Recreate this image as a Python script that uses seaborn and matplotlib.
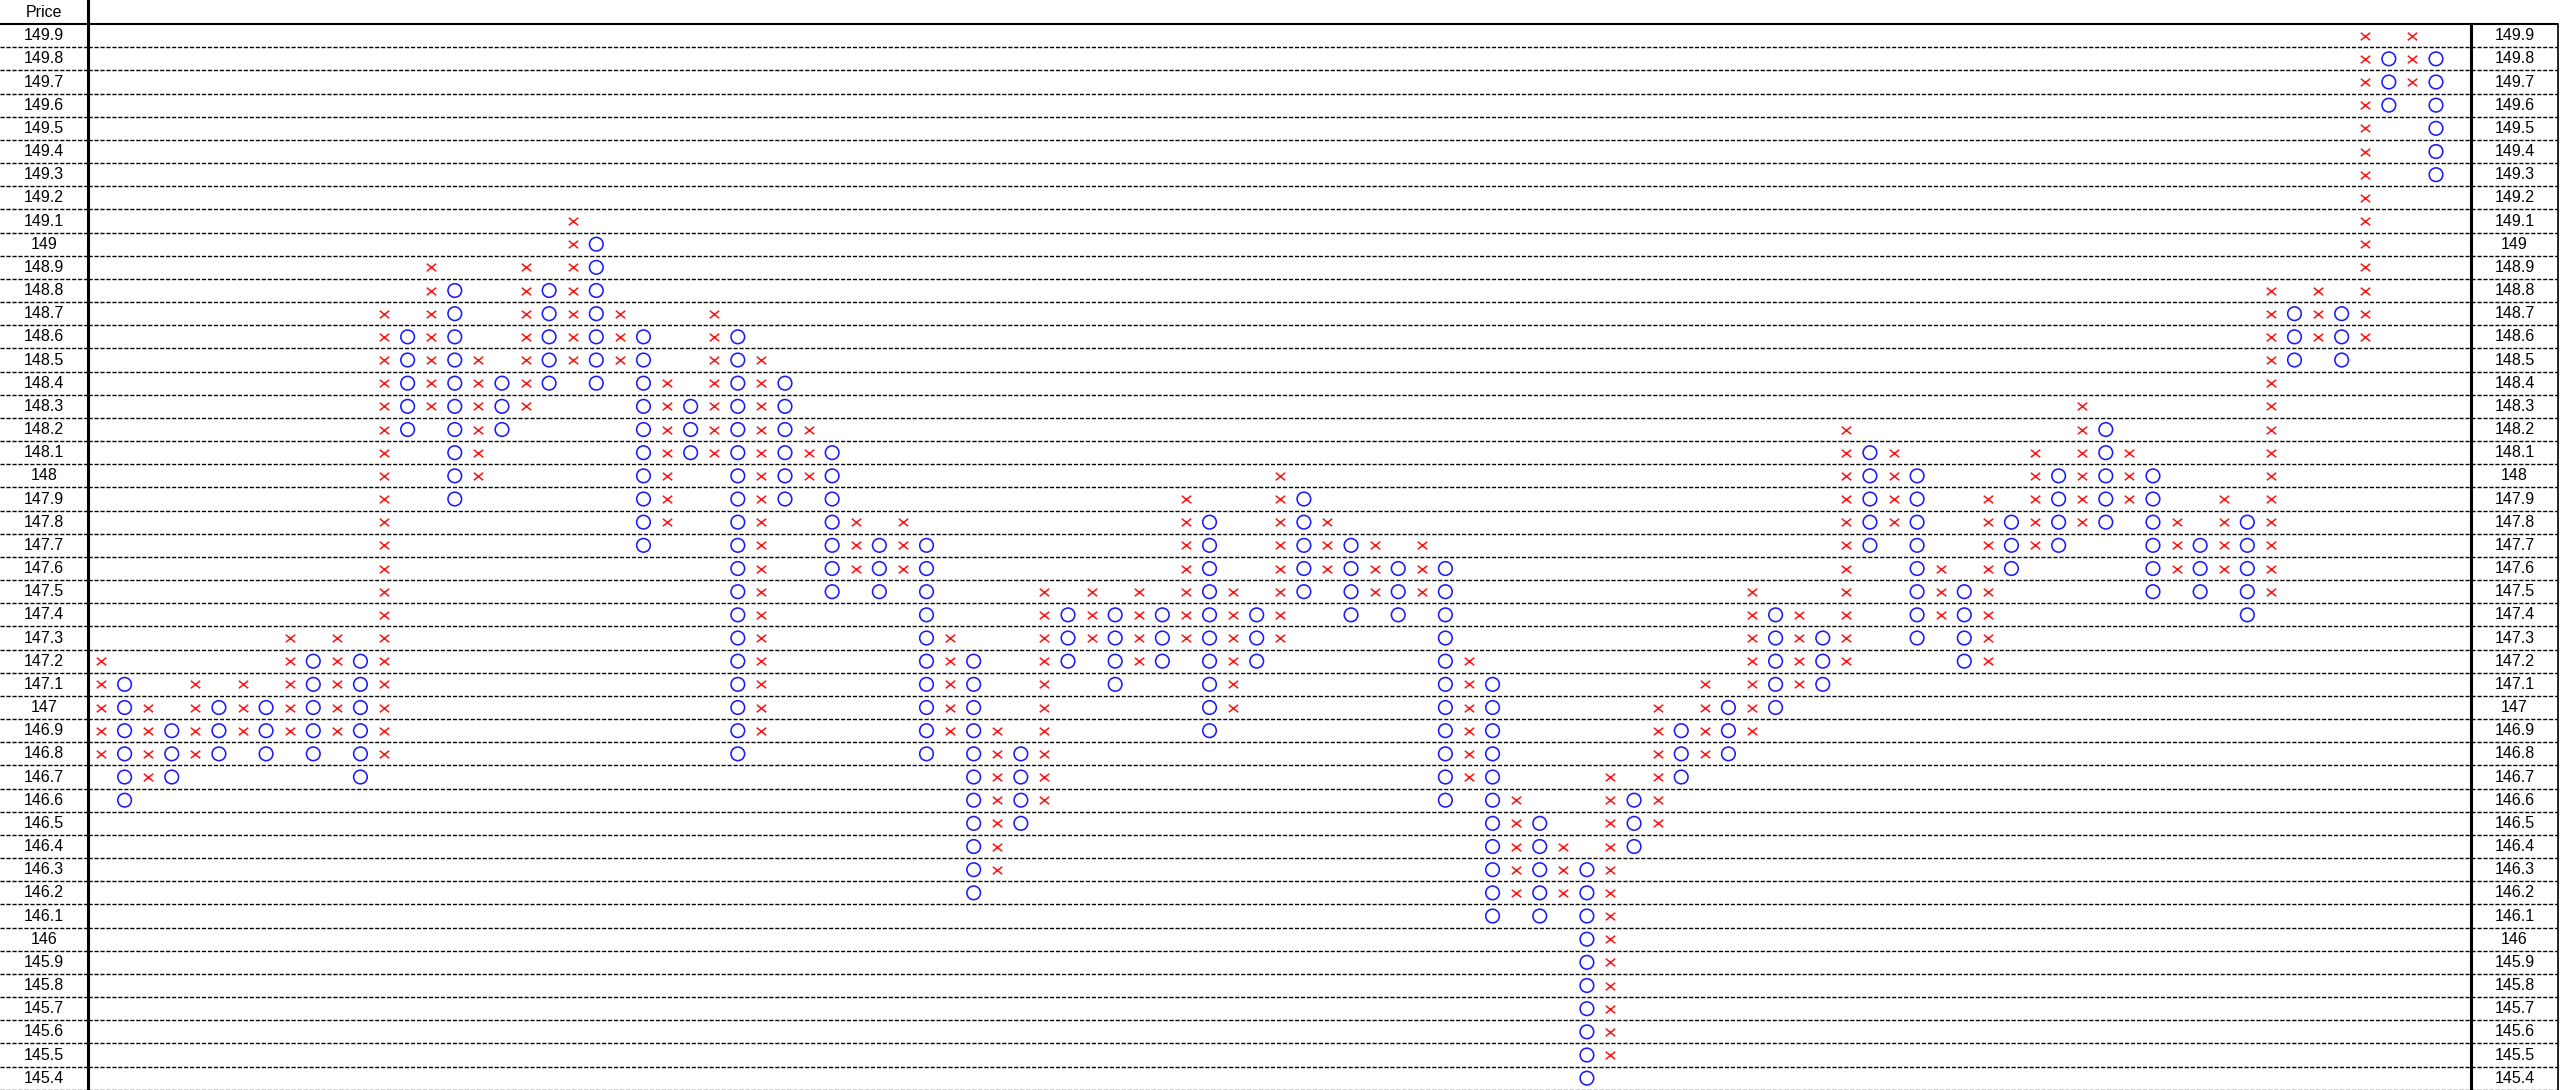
import matplotlib
matplotlib.use('Agg')
import matplotlib.pyplot as plt
import seaborn as sns
import numpy as np
import pandas as pd
from matplotlib.markers import MarkerStyle
from matplotlib.transforms import Affine2D

sns.set_style('white')
plt.rcParams['font.family'] = ['Liberation Sans', 'DejaVu Sans']
plt.rcParams['lines.scale_dashes'] = False

# Filas de precio (caja = 0.1)
price_rows = np.round(np.arange(1499, 1453, -1) / 10, 1)
price_labels = [f'{p:g}' for p in price_rows]

# Columnas del grafico punto y figura: tipo, precio minimo y maximo
col_kind = list('XOXOXOXOXOXOXOXOXOXOXOXOXOXOXOXOXOXOXOXOXOXOXOXOXO'
                'XOXOXOXOXOXOXOXOXOXOXOXOXOXOXOXOXOXOXOXOXOXOXOXOXO')
col_low = [146.8, 146.6, 146.7, 146.7, 146.8, 146.8, 146.9, 146.8, 146.9, 146.8,
           146.9, 146.7, 146.8, 148.2, 148.3, 147.9, 148.0, 148.2, 148.3, 148.4,
           148.5, 148.4, 148.5, 147.7, 147.8, 148.1, 148.1, 146.8, 146.9, 147.9,
           148.0, 147.5, 147.6, 147.5, 147.6, 146.8, 146.9, 146.2, 146.3, 146.5,
           146.6, 147.2, 147.3, 147.1, 147.2, 147.2, 147.3, 146.9, 147.0, 147.2,
           147.3, 147.5, 147.6, 147.4, 147.5, 147.4, 147.5, 146.6, 146.7, 146.1,
           146.2, 146.1, 146.2, 145.4, 145.5, 146.4, 146.5, 146.7, 146.8, 146.8,
           146.9, 147.0, 147.1, 147.1, 147.2, 147.7, 147.8, 147.3, 147.4, 147.2,
           147.2, 147.6, 147.7, 147.7, 147.8, 147.8, 147.9, 147.5, 147.6, 147.5,
           147.6, 147.4, 147.5, 148.5, 148.6, 148.5, 148.6, 149.6, 149.7, 149.3]
col_high = [147.2, 147.1, 147.0, 146.9, 147.1, 147.0, 147.1, 147.0, 147.3, 147.2,
            147.3, 147.2, 148.7, 148.6, 148.9, 148.8, 148.5, 148.4, 148.9, 148.8,
            149.1, 149.0, 148.7, 148.6, 148.4, 148.3, 148.7, 148.6, 148.5, 148.4,
            148.2, 148.1, 147.8, 147.7, 147.8, 147.7, 147.3, 147.2, 146.9, 146.8,
            147.5, 147.4, 147.5, 147.4, 147.5, 147.4, 147.9, 147.8, 147.5, 147.4,
            148.0, 147.9, 147.8, 147.7, 147.7, 147.6, 147.7, 147.6, 147.2, 147.1,
            146.6, 146.5, 146.4, 146.3, 146.7, 146.6, 147.0, 146.9, 147.1, 147.0,
            147.5, 147.4, 147.4, 147.3, 148.2, 148.1, 148.1, 148.0, 147.6, 147.5,
            147.9, 147.8, 148.1, 148.0, 148.3, 148.2, 148.1, 148.0, 147.8, 147.7,
            147.9, 147.8, 148.8, 148.7, 148.8, 148.7, 149.9, 149.8, 149.9, 149.8]

# Armo la tabla de cajas
rows = []
for i, (k, lo, hi) in enumerate(zip(col_kind, col_low, col_high)):
    for t in range(int(round(lo * 10)), int(round(hi * 10)) + 1):
        rows.append({'col': i + 1, 'price': t / 10, 'kind': k})
boxes = pd.DataFrame(rows)

W, H = 2560, 1090
y_lo, y_hi = 145.349, 150.054
bounds = np.round(price_rows - 0.05, 2)

fig = plt.figure(figsize=(W / 100, H / 100), dpi=100)
ax_l = fig.add_axes([0, 0, 88 / W, 1])
ax = fig.add_axes([88 / W, 0, (2471 - 88) / W, 1])
ax_r = fig.add_axes([2471 / W, 0, (2558 - 2471) / W, 1])

sns.scatterplot(data=boxes[boxes['kind'] == 'X'], x='col', y='price',
                marker=MarkerStyle('x', transform=Affine2D().scale(1, 0.8)),
                s=46, color='#ff1a1a', linewidth=1.15, ax=ax, legend=False)
sns.scatterplot(data=boxes[boxes['kind'] == 'O'], x='col', y='price',
                marker='o', s=96, color='#1a1aff', facecolor='none',
                edgecolor='#1a1aff', linewidth=1.15, ax=ax, legend=False)
ax.set_xlim(0.449, 101.484)

for a in (ax_l, ax, ax_r):
    a.set_ylim(y_lo, y_hi)
    a.set_xticks([])
    a.set_yticks([])
    a.set_xlabel('')
    a.set_ylabel('')
    for s in a.spines.values():
        s.set_visible(False)
    for b in bounds:
        a.axhline(b, color='black', lw=1.0, ls=(0, (3.0, 1.3)), zorder=0)
    a.axhline(149.95, color='black', lw=1.5, zorder=1)

ax.spines['left'].set_visible(True)
ax.spines['left'].set_linewidth(2.2)
ax.spines['left'].set_color('black')
ax_r.spines['left'].set_visible(True)
ax_r.spines['left'].set_linewidth(2.2)
ax_r.spines['left'].set_color('black')
ax_r.spines['left'].set_bounds(y_lo, 149.95)
ax_r.spines['right'].set_visible(True)
ax_r.spines['right'].set_linewidth(1.2)
ax_r.spines['right'].set_color('black')
ax_r.spines['right'].set_bounds(y_lo, 149.95)

for a in (ax_l, ax_r):
    for p, lbl in zip(price_rows, price_labels):
        a.text(0.5, p, lbl, transform=a.get_yaxis_transform(), ha='center',
               va='center', fontsize=11.5, color='black')
ax_l.text(0.5, 150.0, 'Price', transform=ax_l.get_yaxis_transform(),
          ha='center', va='center', fontsize=11.5, color='black')

fig.savefig('out.png', dpi=100)
